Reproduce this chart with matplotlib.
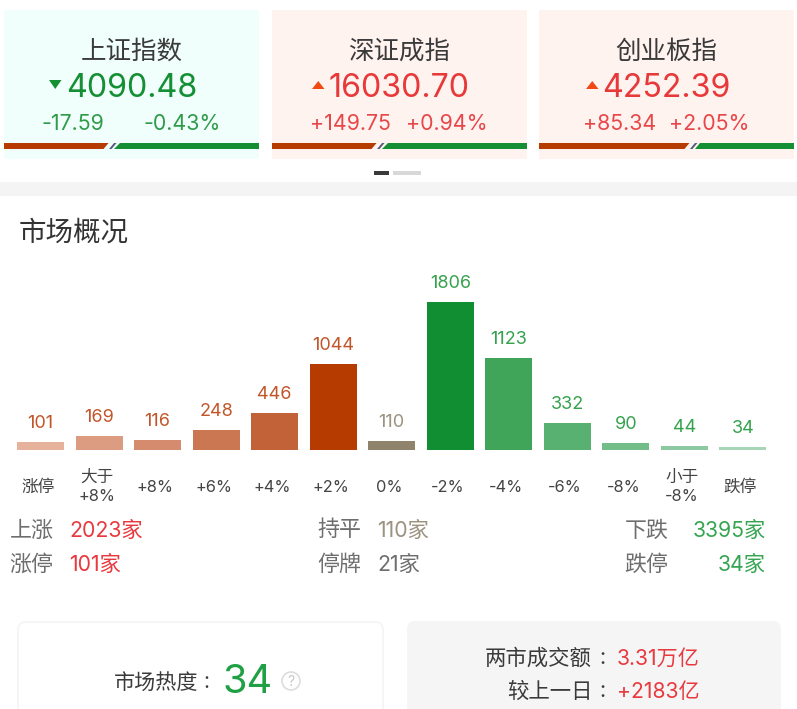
import matplotlib
matplotlib.use("Agg")
import matplotlib.pyplot as plt
from matplotlib.patches import Rectangle, Polygon, FancyBboxPatch, Circle

plt.rcParams['font.family'] = ['Inter', 'Noto Sans CJK SC', 'DejaVu Sans']

# ---- data ----
index_names = ['上证指数', '深证成指', '创业板指']
index_values = ['4090.48', '16030.70', '4252.39']
index_changes = ['-17.59', '+149.75', '+85.34']
index_pcts = ['-0.43%', '+0.94%', '+2.05%']
index_up = [False, True, True]
index_red_share = [0.41, 0.41, 0.59]

bucket_labels = ['涨停', '大于\n+8%', '+8%', '+6%', '+4%', '+2%', '0%', '-2%', '-4%', '-6%', '-8%', '小于\n-8%', '跌停']
bucket_counts = [101, 169, 116, 248, 446, 1044, 110, 1806, 1123, 332, 90, 44, 34]
bucket_colors = ['#E6B29C', '#DB9C82', '#D58B6D', '#CB7852', '#C26238', '#B53B00', '#8F836C',
                 '#118E31', '#40A459', '#58B071', '#73BD88', '#8CC9A0', '#A6D6B5']
label_colors = ['#C2562A'] * 6 + ['#9C9280'] + ['#36A24E'] * 6

RED, GREEN, GREY = '#E8393F', '#36A551', '#9C9280'
summary = [('上涨', '2023家', RED, 9.5, 69.5, 'left', 536.5),
           ('涨停', '101家', RED, 9.5, 69.5, 'left', 570.5),
           ('持平', '110家', GREY, 317.5, 377.5, 'left', 536.5),
           ('停牌', '21家', '#6E6E6E', 317.5, 377.5, 'left', 570.5),
           ('下跌', '3395家', GREEN, 624.5, 766, 'right', 536.5),
           ('跌停', '34家', GREEN, 624.5, 766, 'right', 570.5)]
heat_value = '34'
turnover = '3.31万亿'
turnover_delta = '+2183亿'

# ---- layout ----
W, H = 797, 709
fig = plt.figure(figsize=(W / 100, H / 100), dpi=100, facecolor='white')
bg = fig.add_axes([0, 0, 1, 1])
bg.set_xlim(0, W)
bg.set_ylim(H, 0)
bg.axis('off')

DARK = '#3A3A3A'
def T(x, y, s, size, color=DARK, ha='left', **kw):
    bg.text(x, y, s, fontsize=size, color=color, ha=ha, va='baseline', **kw)

# index cards
card_x = [4, 272, 539]
card_w = 255
big_x = [66.5, 328.5, 602.5]
arrow_x = [49, 312, 586]
chg_x = [41.5, 310.5, 583.5]
pct_x = [220.5, 487.5, 749.5]
for i in range(3):
    x0 = card_x[i]
    up = index_up[i]
    bg.add_patch(Rectangle((x0, 10), card_w, 149, fc='#FFF3F0' if up else '#F0FFFB', ec='none'))
    T(x0 + card_w / 2, 58.5, index_names[i], 18.4, ha='center')
    c = '#E8393A' if up else '#158F34'
    tc = '#F04A14' if up else '#158F34'
    T(big_x[i], 97, index_values[i], 23.2, color=c)
    ax_ = arrow_x[i]
    if up:
        bg.add_patch(Polygon([(ax_, 89), (ax_ + 12.5, 89), (ax_ + 6.25, 81)], fc=tc, ec='none'))
    else:
        bg.add_patch(Polygon([(ax_, 80), (ax_ + 12.5, 80), (ax_ + 6.25, 89)], fc=tc, ec='none'))
    sub = '#E8474A' if up else '#2F9B4B'
    T(chg_x[i], 130, index_changes[i], 15.4, color=sub)
    T(pct_x[i], 130, index_pcts[i], 15.4, color=sub, ha='right')
    # pressure strip
    mid = x0 + card_w * index_red_share[i]
    y0, y1 = 143, 149
    bg.add_patch(Polygon([(x0, y0), (mid, y0), (mid - 5, y1), (x0, y1)], fc='#B53B00', ec='none'))
    bg.add_patch(Polygon([(mid + 11, y0), (x0 + card_w, y0), (x0 + card_w, y1), (mid + 5.5, y1)], fc='#158F34', ec='none'))
    bg.add_patch(Polygon([(mid + 5.5, y0), (mid + 8, y0), (mid + 3, y1), (mid + 0.5, y1)], fc='#55597A', ec='none'))

# pager + divider
bg.add_patch(Rectangle((374, 171), 15, 3.5, fc='#3A3A3A', ec='none'))
bg.add_patch(Rectangle((393, 171), 28, 3.5, fc='#D8D8D8', ec='none'))
bg.add_patch(Rectangle((0, 182), W, 14, fc='#F4F4F4', ec='none'))

T(19, 241, '市场概况', 19.8, color='#333333', fontweight='medium')

# bars, on real scales
BASE_Y, TOP_Y = 450.0, 270.0
X0, STEP = 40.5, 58.54
PER_UNIT = 148.0 / 1806
ax = fig.add_axes([0, 1 - BASE_Y / H, 1, (BASE_Y - TOP_Y) / H], facecolor='none')
ax.set_xlim(-X0 / STEP, (W - X0) / STEP)
ax.set_ylim(0, (BASE_Y - TOP_Y) / PER_UNIT)
ax.axis('off')
positions = list(range(len(bucket_counts)))
ax.bar(positions, bucket_counts, width=47 / STEP, color=bucket_colors, linewidth=0)
for p, v, c in zip(positions, bucket_counts, label_colors):
    ax.annotate(str(v), (p, v), xytext=(0, 14 * 0.72), textcoords='offset points',
                ha='center', va='baseline', fontsize=13, color=c)

# category labels
for p, lab in zip(positions, bucket_labels):
    x = X0 + STEP * p - 2.5
    lines = lab.split('\n')
    if len(lines) == 2:
        T(x, 481.5, lines[0], 12, color='#444444', ha='center')
        T(x, 501, lines[1], 11.8, color='#444444', ha='center')
    elif lab.endswith('%'):
        T(x, 491.5, lab, 11.8, color='#444444', ha='center')
    else:
        T(x, 491.5, lab, 12, color='#444444', ha='center')

# summary rows
for name, val, col, nx, vx, ha, y in summary:
    T(nx, y, name, 15.8, color='#6E6E6E')
    T(vx, y, val, 15.3, color=col, ha=ha)

# bottom cards
bg.add_patch(FancyBboxPatch((18, 622), 365, 110, boxstyle='round,pad=0,rounding_size=8',
                            fc='white', ec='#F4F4F4', lw=1.2))
bg.add_patch(FancyBboxPatch((407, 621), 374, 110, boxstyle='round,pad=0,rounding_size=8',
                            fc='#F5F5F5', ec='none'))
T(114, 689, '市场热度', 15.2, color='#3A3A3A')
T(203, 688, ':', 15.2, color='#3A3A3A')
T(223, 693, heat_value, 28.5, color='#1FA044')
bg.add_patch(Circle((291, 681), 9, fc='white', ec='#DDDDDD', lw=1.2))
T(291, 686, '?', 10, color='#C8C8C8', ha='center')
T(485, 665, '两市成交额', 15.4, color='#3A3A3A')
T(599, 664, ':', 15.4, color='#3A3A3A')
T(507, 698, '较上一日', 15.4, color='#3A3A3A')
T(599, 697, ':', 15.4, color='#3A3A3A')
T(617, 665, turnover, 15.2, color=RED)
T(617, 698, turnover_delta, 15.2, color=RED)

fig.savefig('out.png', dpi=100)
